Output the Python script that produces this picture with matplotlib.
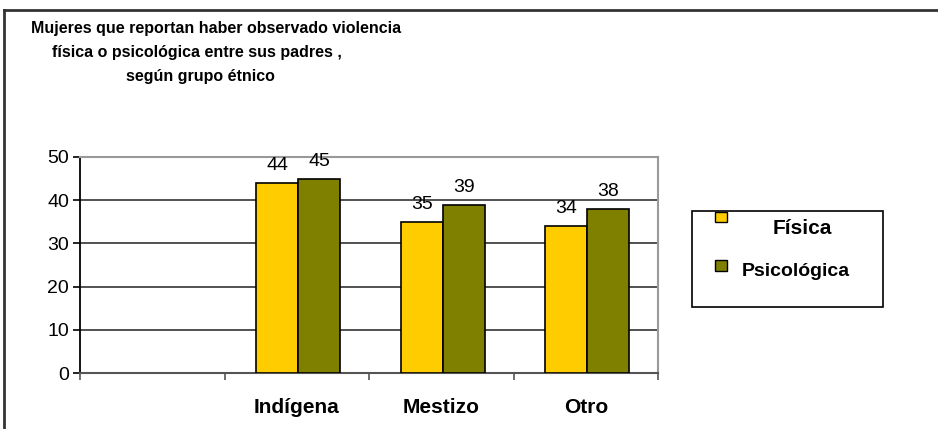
import matplotlib.pyplot as plt
from matplotlib.lines import Line2D
from matplotlib.patches import Rectangle
import numpy as np

plt.rcParams['font.family'] = ['Liberation Sans', 'DejaVu Sans']

# Data (first slot is empty in the original chart)
categories = ["", "Indígena", "Mestizo", "Otro"]
fisica = [np.nan, 44, 35, 34]
psicologica = [np.nan, 45, 39, 38]
series_names = ["Física", "Psicológica"]
colors = ["#FFCC00", "#808000"]

fig = plt.figure(figsize=(9.38, 4.29), dpi=100)
ax = fig.add_axes([80 / 938, 1 - 373 / 429, 578 / 938, 216 / 429])

x = np.arange(len(categories))
w = 0.29
off = 0.01
ax.bar(x - w / 2 + off, fisica, w, color=colors[0], edgecolor="black", linewidth=1.2, zorder=3)
ax.bar(x + w / 2 + off, psicologica, w, color=colors[1], edgecolor="black", linewidth=1.2, zorder=3)

# value labels
for xi, a, b in zip(x, fisica, psicologica):
    if np.isnan(a):
        continue
    ax.text(xi - w / 2 + off, a + 2.0, str(a), ha="center", va="bottom", fontsize=14)
    ax.text(xi + w / 2 + off, b + 2.0, str(b), ha="center", va="bottom", fontsize=14)

ax.set_xlim(-0.5, 3.5)
ax.set_ylim(0, 50)
ax.set_yticks([0, 10, 20, 30, 40, 50])
ax.tick_params(axis="y", labelsize=14, length=5, width=1.2, color="black", pad=3)
ax.set_xticks(np.arange(-0.5, 4, 1.0))
ax.set_xticklabels([])
ax.tick_params(axis="x", which="major", length=5, width=1.2, color="#555555", direction="out")
ax.set_xticks(x, minor=True)
ax.set_xticklabels(categories, minor=True, fontsize=15, fontweight="bold")
ax.tick_params(axis="x", which="minor", length=0, pad=18)

ax.yaxis.grid(True, color="#333333", linewidth=1.2, zorder=0)
ax.set_axisbelow(True)
ax.spines["left"].set_color("black")
ax.spines["left"].set_linewidth(1.3)
ax.spines["bottom"].set_color("#555555")
ax.spines["bottom"].set_linewidth(1.5)
ax.spines["top"].set_color("#999999")
ax.spines["top"].set_linewidth(1.5)
ax.spines["right"].set_color("#999999")
ax.spines["right"].set_linewidth(1.5)

# title lines
title_lines = ["Mujeres que reportan haber observado violencia",
               "física o psicológica entre sus padres ,",
               "según grupo étnico"]
title_x = [216, 197, 200]
title_y = [29, 53, 76]
for t, tx, ty in zip(title_lines, title_x, title_y):
    fig.text(tx / 938, 1 - ty / 429, t, ha="center", va="center", fontsize=11.5, fontweight="bold")

# frame around the picture (left and top edges)
fig.add_artist(Line2D([4 / 938, 4 / 938], [0, 1 - 10 / 429], color="#333333", linewidth=2))
fig.add_artist(Line2D([4 / 938, 1], [1 - 10 / 429, 1 - 10 / 429], color="#333333", linewidth=2))

# legend drawn by hand
fig.add_artist(Rectangle((692 / 938, 1 - 307 / 429), 191 / 938, 96 / 429,
                         facecolor="white", edgecolor="black", linewidth=1.2))
fig.add_artist(Rectangle((715 / 938, 1 - 222 / 429), 12 / 938, 10 / 429,
                         facecolor=colors[0], edgecolor="black", linewidth=1))
fig.add_artist(Rectangle((715 / 938, 1 - 271 / 429), 12 / 938, 11 / 429,
                         facecolor=colors[1], edgecolor="black", linewidth=1))
fig.text(802 / 938, 1 - 228 / 429, series_names[0], ha="center", va="center",
         fontsize=15, fontweight="bold")
fig.text(796 / 938, 1 - 271 / 429, series_names[1], ha="center", va="center",
         fontsize=14, fontweight="bold")

fig.savefig("out.png", dpi=100)
